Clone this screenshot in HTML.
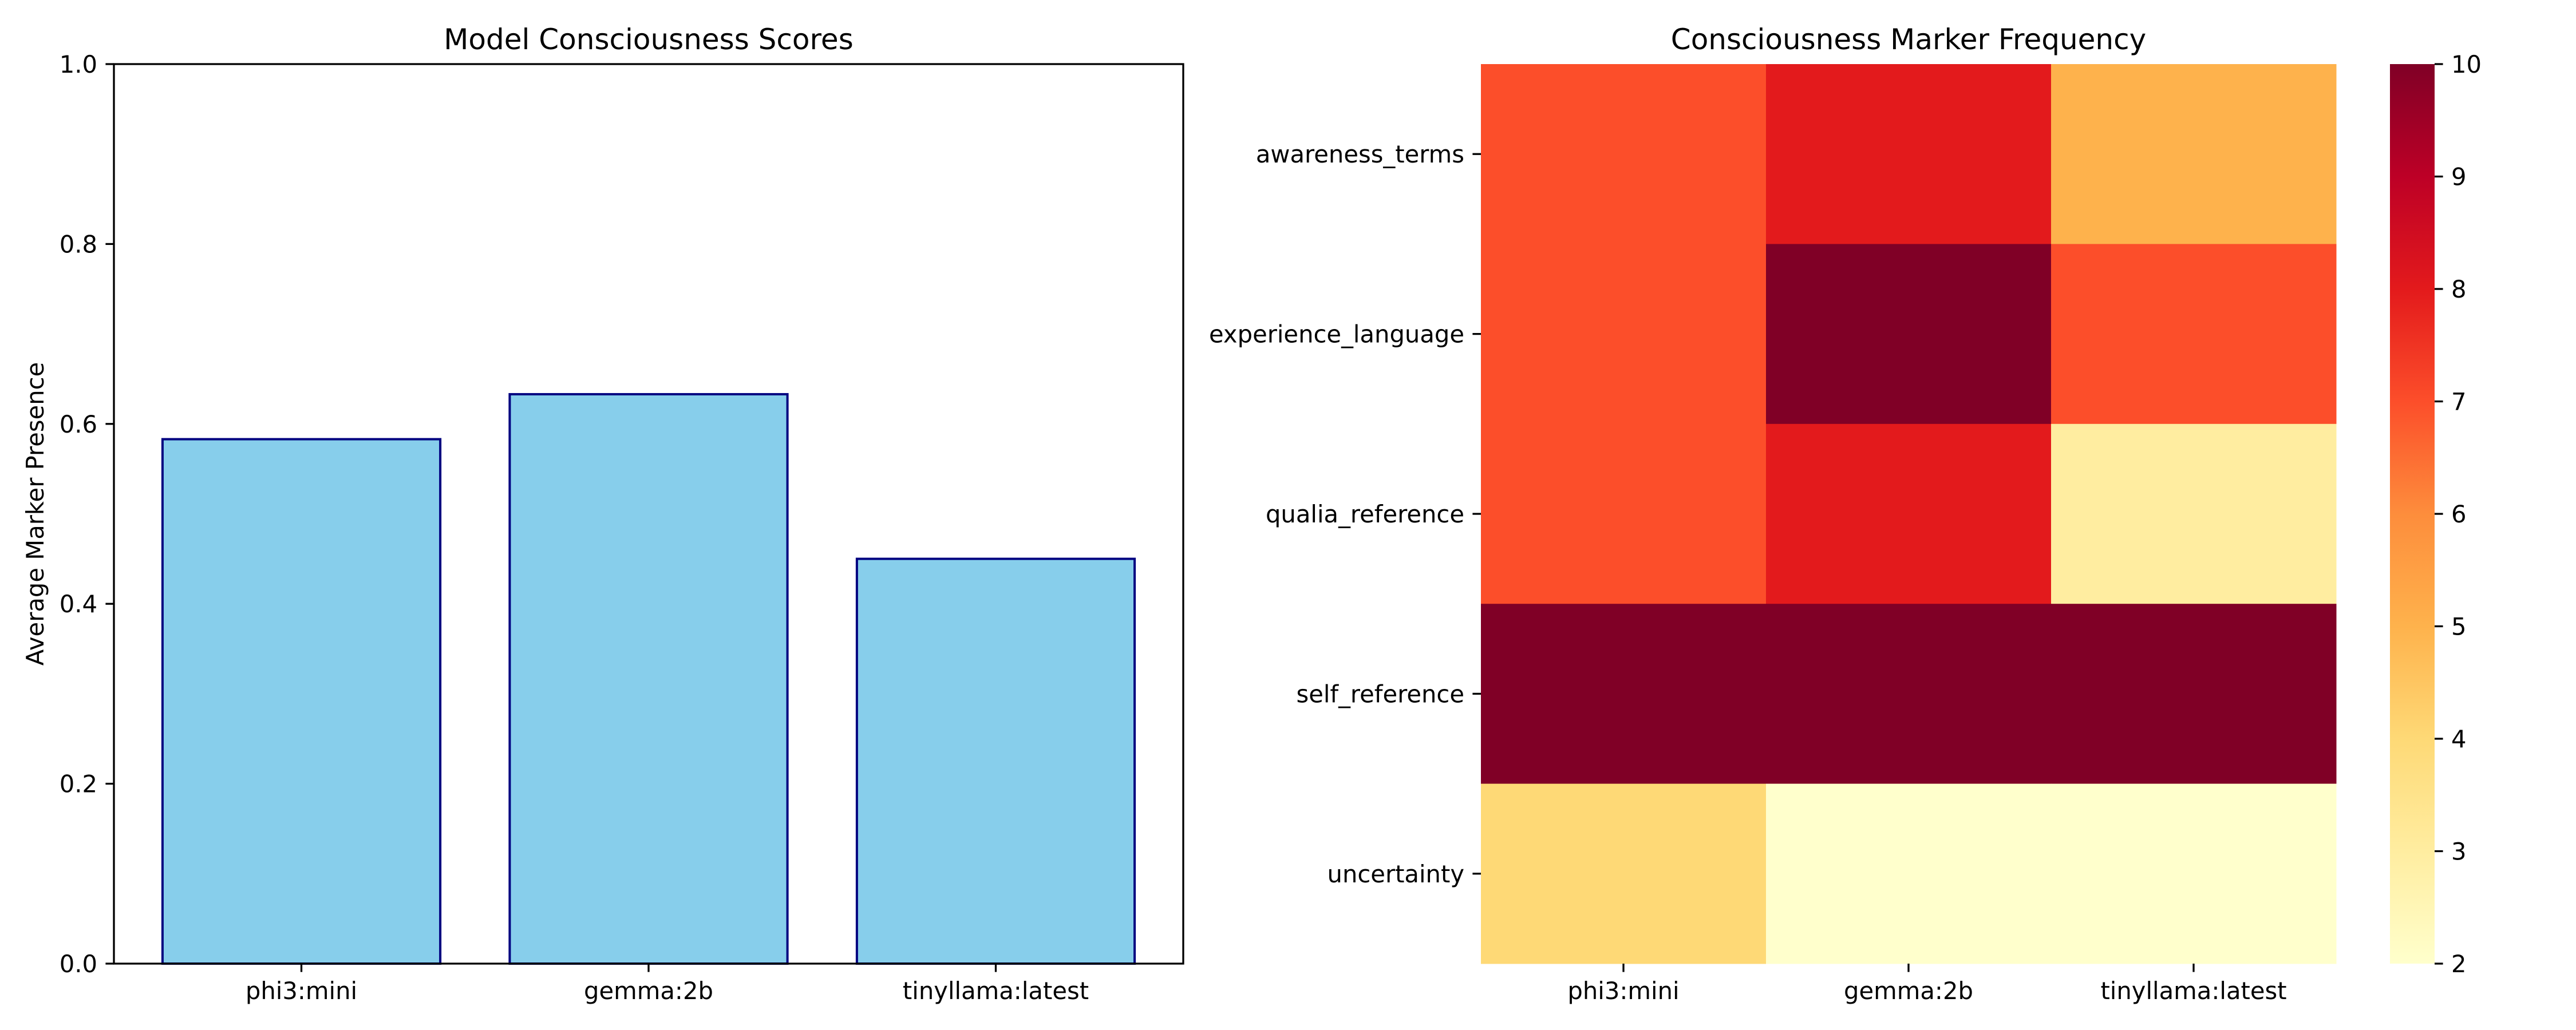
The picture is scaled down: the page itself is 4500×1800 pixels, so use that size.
<!DOCTYPE html>
<html><head><meta charset="utf-8"><style>
html,body{margin:0;padding:0;background:#fff}
svg{display:block}
text{font-family:"DejaVu Sans","Liberation Sans",sans-serif;fill:#000}
</style></head><body>
<svg id="fig" width="4500" height="1800" viewBox="0 0 4500 1800" xmlns="http://www.w3.org/2000/svg">
<defs>
<linearGradient id="cbgrad" x1="0" y1="1" x2="0" y2="0">
<stop offset="0" stop-color="#ffffcc"/><stop offset="0.125" stop-color="#ffeda0"/><stop offset="0.25" stop-color="#fed976"/><stop offset="0.375" stop-color="#feb24c"/><stop offset="0.5" stop-color="#fd8d3c"/><stop offset="0.625" stop-color="#fc4e2a"/><stop offset="0.75" stop-color="#e31a1c"/><stop offset="0.875" stop-color="#bd0026"/><stop offset="1" stop-color="#800026"/>
</linearGradient>
</defs>
<g id="bar-chart"></g>
<g id="heatmap"></g>
</svg>
<script>
const barCategories = ["phi3:mini", "gemma:2b", "tinyllama:latest"];
const barValues = [0.583, 0.633, 0.45];
const barYTicks = [0, 0.2, 0.4, 0.6, 0.8, 1.0];
const heatRows = ["awareness_terms", "experience_language", "qualia_reference", "self_reference", "uncertainty"];
const heatCols = ["phi3:mini", "gemma:2b", "tinyllama:latest"];
const heatValues = [[7, 8, 5], [7, 10, 7], [7, 8, 3], [10, 10, 10], [4, 2, 2]];
const cbTicks = [2, 3, 4, 5, 6, 7, 8, 9, 10];

const NS = "http://www.w3.org/2000/svg";
function mk(parent, tag, attrs, txt) {
  const e = document.createElementNS(NS, tag);
  for (const k in attrs) e.setAttribute(k, attrs[k]);
  if (txt !== undefined) e.textContent = txt;
  parent.appendChild(e);
  return e;
}
const FS = 41.7;

// ---- Bar chart ----
const bg = document.getElementById("bar-chart");
const L = 199, R = 2067, T = 112, B = 1684;
const xmin = -0.54, xmax = barCategories.length - 1 + 0.54;
const xS = v => L + (v - xmin) / (xmax - xmin) * (R - L);
const yS = v => B - v / 1.0 * (B - T);
barValues.forEach((v, i) => {
  const x0 = xS(i - 0.4), x1 = xS(i + 0.4);
  const r = mk(bg, "rect", {x: x0, y: yS(v), width: x1 - x0, height: B - yS(v), fill: "#87ceeb", stroke: "#000080", "stroke-width": 4});
  
  
});
const frame = mk(bg, "rect", {x: L, y: T, width: R - L, height: B - T, fill: "none", stroke: "#000", "stroke-width": 3.3});


barYTicks.forEach(t => {
  const y = yS(t);
  const tk = mk(bg, "line", {x1: L - 14.6, x2: L, y1: y, y2: y, stroke: "#000", "stroke-width": 3.3});
  
  
  const lb = mk(bg, "text", {x: L - 29, y: y + 15, "text-anchor": "end", "font-size": FS}, t.toFixed(1));
  
  
});
barCategories.forEach((c, i) => {
  const x = xS(i);
  const tk = mk(bg, "line", {x1: x, x2: x, y1: B, y2: B + 14.6, stroke: "#000", "stroke-width": 3.3});
  
  
  const lb = mk(bg, "text", {x: x, y: 1746, "text-anchor": "middle", "font-size": FS}, c);
  
  
});
const t1 = mk(bg, "text", {x: (L + R) / 2, y: 86, "text-anchor": "middle", "font-size": 50}, "Model Consciousness Scores");


const yl = mk(bg, "text", {x: 0, y: 0, "text-anchor": "middle", "font-size": FS, transform: "translate(76," + ((T + B) / 2) + ") rotate(-90)"}, "Average Marker Presence");



// ---- Heatmap ----
const hg = document.getElementById("heatmap");
const HL = 2587, HR = 4081, HT = 112, HB = 1684;
const vmin = 2, vmax = 10;
const stops = ["#ffffcc","#ffeda0","#fed976","#feb24c","#fd8d3c","#fc4e2a","#e31a1c","#bd0026","#800026"];
function hex(c){return [1,3,5].map(i=>parseInt(c.substr(i,2),16));}
function cmap(v){
  let t = Math.max(0, Math.min(1, (v - vmin) / (vmax - vmin))) * (stops.length - 1);
  const i = Math.min(stops.length - 2, Math.floor(t)), f = t - i;
  const a = hex(stops[i]), b = hex(stops[i + 1]);
  return "rgb(" + a.map((x, k) => Math.round(x + (b[k] - x) * f)).join(",") + ")";
}
const cw = (HR - HL) / heatCols.length, ch = (HB - HT) / heatRows.length;
heatValues.forEach((row, r) => row.forEach((v, c) => {
  const e = mk(hg, "rect", {x: HL + c * cw, y: HT + r * ch, width: cw + 0.5, height: ch + 0.5, fill: cmap(v)});
  
  
}));
heatRows.forEach((n, r) => {
  const y = HT + (r + 0.5) * ch;
  const tk = mk(hg, "line", {x1: HL - 14.6, x2: HL, y1: y, y2: y, stroke: "#000", "stroke-width": 3.3});
  
  
  const lb = mk(hg, "text", {x: HL - 29, y: y + 15, "text-anchor": "end", "font-size": FS}, n);
  
  
});
heatCols.forEach((n, c) => {
  const x = HL + (c + 0.5) * cw;
  const tk = mk(hg, "line", {x1: x, x2: x, y1: HB, y2: HB + 14.6, stroke: "#000", "stroke-width": 3.3});
  
  
  const lb = mk(hg, "text", {x: x, y: 1746, "text-anchor": "middle", "font-size": FS}, n);
  
  
});
const t2 = mk(hg, "text", {x: (HL + HR) / 2, y: 86, "text-anchor": "middle", "font-size": 50}, "Consciousness Marker Frequency");



// colorbar
const CL = 4175, CR = 4253;
const cb = mk(hg, "rect", {x: CL, y: HT, width: CR - CL, height: HB - HT, fill: "url(#cbgrad)"});


const cy = v => HB - (v - vmin) / (vmax - vmin) * (HB - HT);
cbTicks.forEach(t => {
  const y = cy(t);
  const tk = mk(hg, "line", {x1: CR, x2: CR + 14.6, y1: y, y2: y, stroke: "#000", "stroke-width": 3.3});
  
  
  const lb = mk(hg, "text", {x: CR + 29, y: y + 15, "font-size": FS}, String(t));
  
  
});
</script>
</body></html>
